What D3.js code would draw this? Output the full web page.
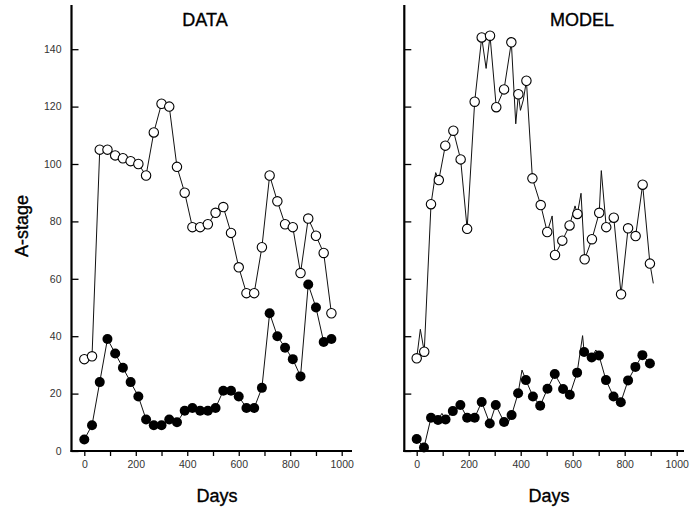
<!DOCTYPE html>
<html>
<head>
<meta charset="utf-8">
<script src="https://cdn.jsdelivr.net/npm/d3@7"></script>
<style>
  body { margin: 0; background: #fff; }
  svg { display: block; font-family: "Liberation Sans", Arial, sans-serif; }
  .tick text { fill: #333; font-size: 10.5px; }
  .label { fill: #000; stroke: #000; stroke-width: 0.35px; }
</style>
</head>
<body>
<svg id="chart" width="695" height="508"></svg>
<script>
//observed data (sampled ~every 30 days)
const dataDays = [0,30,60,90,120,150,180,210,240,270,300,330,360,390,420,450,480,510,540,570,600,630,660,690,720,750,780,810,840,870,900,930,960];
const dataOpen = [32,33,105,105,103,102,101,100,96,111,121,120,99,90,78,78,79,83,85,76,64,55,55,71,96,87,79,78,62,81,75,69,48];
const dataFilled = [4,9,24,39,34,29,24,19,11,9,9,11,10,14,15,14,14,15,21,21,19,15,15,22,48,40,36,32,26,58,50,38,39];

//model markers
const modelOpenDays = [0,29,55,85,110,141,169,194,223,250,282,306,336,364,391,422,445,477,502,532,560,588,618,646,674,702,729,758,786,813,842,869,897];
const modelOpen = [32.3,34.6,86,94.4,106.4,111.6,101.6,77.4,121.7,144.1,144.7,119.8,126,142.4,124.3,129,95,85.7,76.3,68.3,73.3,78.6,82.6,66.8,73.8,83,78,81.3,54.6,77.6,74.9,92.8,65.3];
const modelFilledDays = [0,28,55,82,111,139,168,194,223,250,281,304,336,365,390,420,447,475,503,531,563,589,617,644,673,701,728,757,785,813,841,868,897];
const modelFilled = [4.2,1.2,11.6,10.8,11,13.9,16,11.6,11.6,17.1,9.6,16,10.1,12.5,20.1,24.7,19,15.8,21.7,26.8,21.6,19.6,27.3,34.5,32.6,33.3,24.7,19,17,24.6,29.3,33.4,30.5];

//model trajectory between markers (extra vertices)
const modelOpenExtraDays = [14,73,267,381,399,410,521,609,632,710,910];
const modelOpenExtra = [42.4,97,133.3,114,118.7,122.3,81.9,85.4,89.8,97.7,58.4];
const modelFilledExtraDays = [72,97,346,405,638,689];
const modelFilledExtra = [9.6,13.1,8.7,28.2,40.2,35.2];

const yTicks = [0,20,40,60,80,100,120,140];
const xTicks = [0,100,200,300,400,500,600,700,800,900,1000];

const svg = d3.select("#chart");

const y = d3.scaleLinear().domain([0, 155.4]).range([451, 5]);

function merge(d1, v1, d2, v2){
	const pts = d1.map((d, i) => [d, v1[i]]).concat(d2.map((d, i) => [d, v2[i]]));
	return pts.sort((a, b) => a[0] - b[0]);
}

function drawPanel(p){
	const x = d3.scaleLinear().domain([0, 1000]).range([p.r0, p.r1]);
	const g = svg.append("g");

	//x axis
	g.append("g")
	  .attr("transform", "translate(0,451)")
	  .call(d3.axisBottom(x).tickValues(xTicks).tickSize(5).tickSizeOuter(0)
	     .tickFormat(d => d % 200 === 0 ? d : ""))
	  .call(a => a.select(".domain").remove())
	  .call(a => a.selectAll(".tick line").attr("stroke", "#000").attr("stroke-width", 1.3))
	  .call(a => a.selectAll(".tick text").attr("dy", "0.9em"));

	//y axis, ticks inside
	g.append("g")
	  .attr("transform", "translate(" + p.ax + ",0)")
	  .call(d3.axisLeft(y).tickValues(yTicks).tickSize(-7).tickPadding(10)
	     .tickFormat(p.labels ? d => d : ""))
	  .call(a => a.select(".domain").remove())
	  .call(a => a.selectAll(".tick line").attr("stroke", "#000").attr("stroke-width", 1.3));

	//axis lines
	g.append("line").attr("x1", p.ax).attr("x2", p.ax).attr("y1", 5).attr("y2", 452)
	  .attr("stroke", "#000").attr("stroke-width", 2.2);
	g.append("line").attr("x1", p.ax - 1).attr("x2", p.axEnd).attr("y1", 451).attr("y2", 451)
	  .attr("stroke", "#000").attr("stroke-width", 2.2);

	const line = d3.line().x(d => x(d[0])).y(d => y(d[1]));

	g.append("path").datum(p.filledLine).attr("d", line)
	  .attr("fill", "none").attr("stroke", "#111").attr("stroke-width", 1);
	g.append("path").datum(p.openLine).attr("d", line)
	  .attr("fill", "none").attr("stroke", "#111").attr("stroke-width", 1);

	g.selectAll(".filled").data(p.filledPts).enter().append("circle")
	  .attr("cx", d => x(d[0])).attr("cy", d => y(d[1])).attr("r", 5)
	  .attr("fill", "#000");
	g.selectAll(".open").data(p.openPts).enter().append("circle")
	  .attr("cx", d => x(d[0])).attr("cy", d => y(d[1])).attr("r", 4.7)
	  .attr("fill", "#fff").attr("stroke", "#000").attr("stroke-width", 1.1);

	//title and x label
	g.append("text").attr("class", "label").attr("x", p.titleX).attr("y", 26).attr("text-anchor", "middle")
	  .style("font-size", "18px").text(p.title);
	g.append("text").attr("class", "label").attr("x", p.daysX).attr("y", 502).attr("text-anchor", "middle")
	  .style("font-size", "18px").text("Days");
}

const dataOpenPts = dataDays.map((d, i) => [d, dataOpen[i]]);
const dataFilledPts = dataDays.map((d, i) => [d, dataFilled[i]]);

drawPanel({
	r0: 84.3, r1: 341.7, ax: 71.5, axEnd: 352, labels: true,
	title: "DATA", titleX: 205, daysX: 217,
	openPts: dataOpenPts, filledPts: dataFilledPts,
	openLine: dataOpenPts, filledLine: dataFilledPts
});

drawPanel({
	r0: 416.7, r1: 676.7, ax: 404.3, axEnd: 684, labels: false,
	title: "MODEL", titleX: 582, daysX: 549,
	openPts: modelOpenDays.map((d, i) => [d, modelOpen[i]]),
	filledPts: modelFilledDays.map((d, i) => [d, modelFilled[i]]),
	openLine: merge(modelOpenDays, modelOpen, modelOpenExtraDays, modelOpenExtra),
	filledLine: merge(modelFilledDays, modelFilled, modelFilledExtraDays, modelFilledExtra)
});

//y label
svg.append("text")
  .attr("class", "label")
  .attr("transform", "translate(28,226) rotate(-90)")
  .attr("text-anchor", "middle")
  .style("font-size", "18px")
  .text("A-stage");
</script>
</body>
</html>
